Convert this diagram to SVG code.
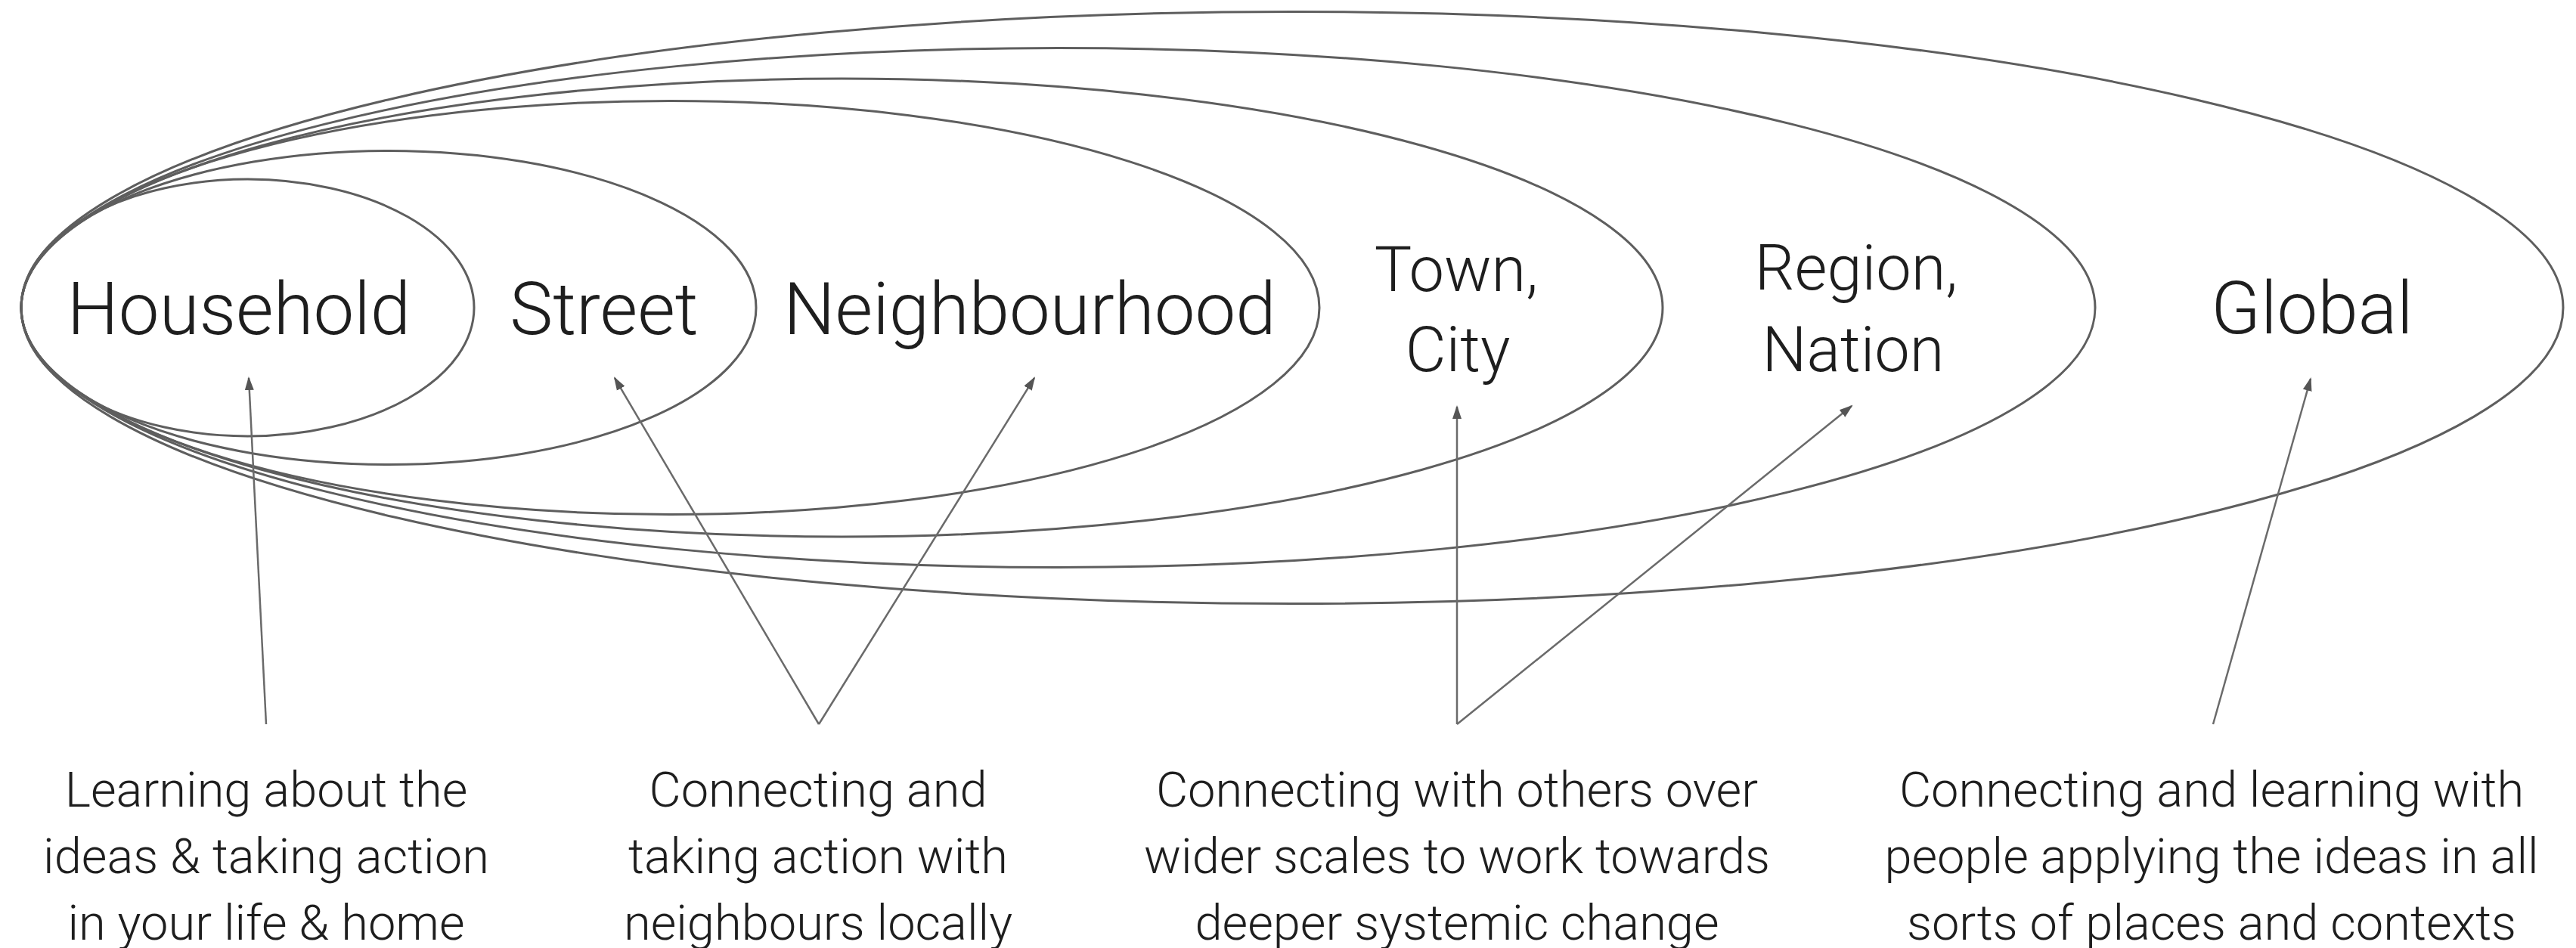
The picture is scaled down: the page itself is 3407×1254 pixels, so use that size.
<svg xmlns="http://www.w3.org/2000/svg" width="3407" height="1254" viewBox="0 0 3407 1254">
<defs>
<style>
.sc{fill:none;stroke:#5e5e5e;stroke-width:3}
.lbl{font-family:Roboto,"Liberation Sans",sans-serif;font-weight:300;fill:#1e1e1e;text-anchor:middle}
.big{font-size:96px}
.mid{font-size:83px}
.cap{font-size:65px}
.ar{fill:none;stroke:#6a6a6a;stroke-width:2.5}
</style>
<marker id="ah" markerUnits="userSpaceOnUse" markerWidth="20" markerHeight="14" refX="16" refY="7" orient="auto">
<path d="M0,1 L18,7 L0,13 Z" fill="#555"/>
</marker>
</defs>
<rect width="3407" height="1254" fill="#ffffff"/>
<g id="global"><ellipse class="sc" cx="1709" cy="407" rx="1681" ry="391.5"/><text class="lbl big" x="3058" y="441">Global</text></g>
<g id="region"><ellipse class="sc" cx="1399.5" cy="407" rx="1371.5" ry="343.5"/><text class="lbl mid" x="2455" y="383">Region,</text><text class="lbl mid" x="2451" y="491">Nation</text></g>
<g id="town"><ellipse class="sc" cx="1113.5" cy="407" rx="1085.5" ry="303"/><text class="lbl mid" x="1926" y="385">Town,</text><text class="lbl mid" x="1928" y="491">City</text></g>
<g id="neighbourhood"><ellipse class="sc" cx="886.5" cy="407" rx="858.5" ry="273.5"/><text class="lbl big" x="1362" y="442">Neighbourhood</text></g>
<g id="street"><ellipse class="sc" cx="514" cy="407" rx="486" ry="207.5"/><text class="lbl big" x="799" y="442">Street</text></g>
<g id="household"><ellipse class="sc" cx="327.5" cy="407" rx="299.5" ry="170"/><text class="lbl big" x="316" y="442">Household</text></g>
<g id="connectors">
<line class="ar" x1="352" y1="958" x2="329" y2="500" marker-end="url(#ah)"/>
<line class="ar" x1="1083" y1="958" x2="813" y2="500" marker-end="url(#ah)"/>
<line class="ar" x1="1083" y1="958" x2="1368" y2="500" marker-end="url(#ah)"/>
<line class="ar" x1="1927" y1="958" x2="1927" y2="538" marker-end="url(#ah)"/>
<line class="ar" x1="1927" y1="958" x2="2449" y2="537" marker-end="url(#ah)"/>
<line class="ar" x1="2927" y1="958" x2="3056" y2="501" marker-end="url(#ah)"/>
</g>
<g id="desc-household"><text class="lbl cap" x="352" y="1067">Learning about the</text><text class="lbl cap" x="352" y="1155">ideas &amp; taking action</text><text class="lbl cap" x="352" y="1243">in your life &amp; home</text></g>
<g id="desc-local"><text class="lbl cap" x="1082" y="1067">Connecting and</text><text class="lbl cap" x="1082" y="1155">taking action with</text><text class="lbl cap" x="1082" y="1243">neighbours locally</text></g>
<g id="desc-wider"><text class="lbl cap" x="1927" y="1067">Connecting with others over</text><text class="lbl cap" x="1927" y="1155">wider scales to work towards</text><text class="lbl cap" x="1927" y="1243">deeper systemic change</text></g>
<g id="desc-global"><text class="lbl cap" x="2925" y="1067">Connecting and learning with</text><text class="lbl cap" x="2925" y="1155">people applying the ideas in all</text><text class="lbl cap" x="2925" y="1243">sorts of places and contexts</text></g>
</svg>
